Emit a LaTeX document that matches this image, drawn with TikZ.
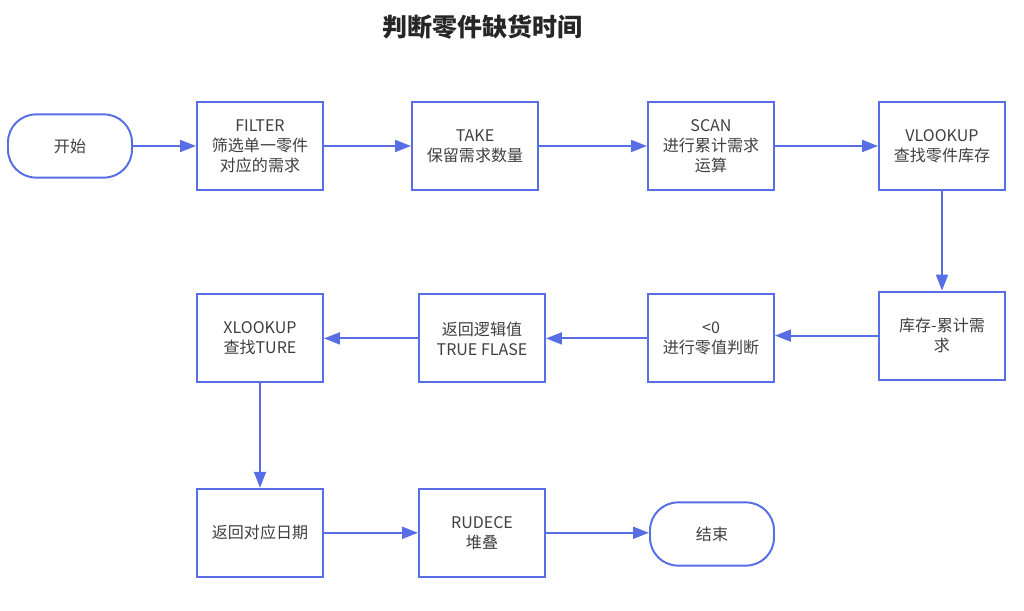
\documentclass[tikz,border=0pt]{standalone}
\usepackage{fontspec}
\setmainfont{Noto Sans CJK SC}
\definecolor{flowblue}{RGB}{88, 110, 228}
\definecolor{textgray}{RGB}{64, 64, 64}
\definecolor{titlegray}{RGB}{38, 38, 38}
\usepackage{tikz}
\usetikzlibrary{shapes, arrows.meta, positioning, calc}

\tikzset{
  stepbox/.style={draw=flowblue, line width=1.4pt, fill=white, minimum width=3.15cm, minimum height=2.2cm,
    align=center, text=textgray, font=\fontsize{11.4}{14.2}\selectfont},
  terminal/.style={draw=flowblue, line width=1.4pt, fill=white, rounded corners=0.7cm, minimum width=3.1cm,
    minimum height=1.58cm, text=textgray, font=\fontsize{11.4}{14.2}\selectfont},
  flow/.style={draw=flowblue, line width=1.4pt, -{Triangle[length=0.4cm, width=0.3cm]}}
}

\begin{document}
\begin{tikzpicture}
  \useasboundingbox (0, 0) rectangle (25.6, -15.275);

  % Title
  \node[font=\fontsize{17.8}{20}\selectfont\bfseries, text=titlegray] (title) at (12.07, -0.68) {判断零件缺货时间};

  % Row 1
  \node[terminal] (start) at (1.75, -3.65) {开始};
  \node[stepbox] (filter) at (6.5, -3.65) {FILTER\\筛选单一零件\\对应的需求};
  \node[stepbox] (take) at (11.875, -3.65) {TAKE\\保留需求数量};
  \node[stepbox] (scan) at (17.775, -3.65) {SCAN\\进行累计需求\\运算};
  \node[stepbox] (vlookup) at (23.55, -3.65) {VLOOKUP\\查找零件库存};

  % Row 2
  \node[stepbox] (stock) at (23.55, -8.39) {库存-累计需\\求};
  \node[stepbox] (zero) at (17.775, -8.46) {<0\\进行零值判断};
  \node[stepbox] (logic) at (12.05, -8.46) {返回逻辑值\\TRUE FLASE};
  \node[stepbox] (xlookup) at (6.5, -8.46) {XLOOKUP\\查找TURE};

  % Row 3
  \node[stepbox] (date) at (6.5, -13.32) {返回对应日期};
  \node[stepbox] (reduce) at (12.05, -13.32) {RUDECE\\堆叠};
  \node[terminal] (finish) at (17.8, -13.35) {结束};

  % Connectors
  \draw[flow] (start) -- (filter);
  \draw[flow] (filter) -- (take);
  \draw[flow] (take) -- (scan);
  \draw[flow] (scan) -- (vlookup);
  \draw[flow] (vlookup) -- (stock);
  \draw[flow] (stock.west) -- (stock.west -| zero.east);
  \draw[flow] (zero) -- (logic);
  \draw[flow] (logic) -- (xlookup);
  \draw[flow] (xlookup) -- (date);
  \draw[flow] (date) -- (reduce);
  \draw[flow] (reduce.east) -- (reduce.east -| finish.west);
\end{tikzpicture}
\end{document}
